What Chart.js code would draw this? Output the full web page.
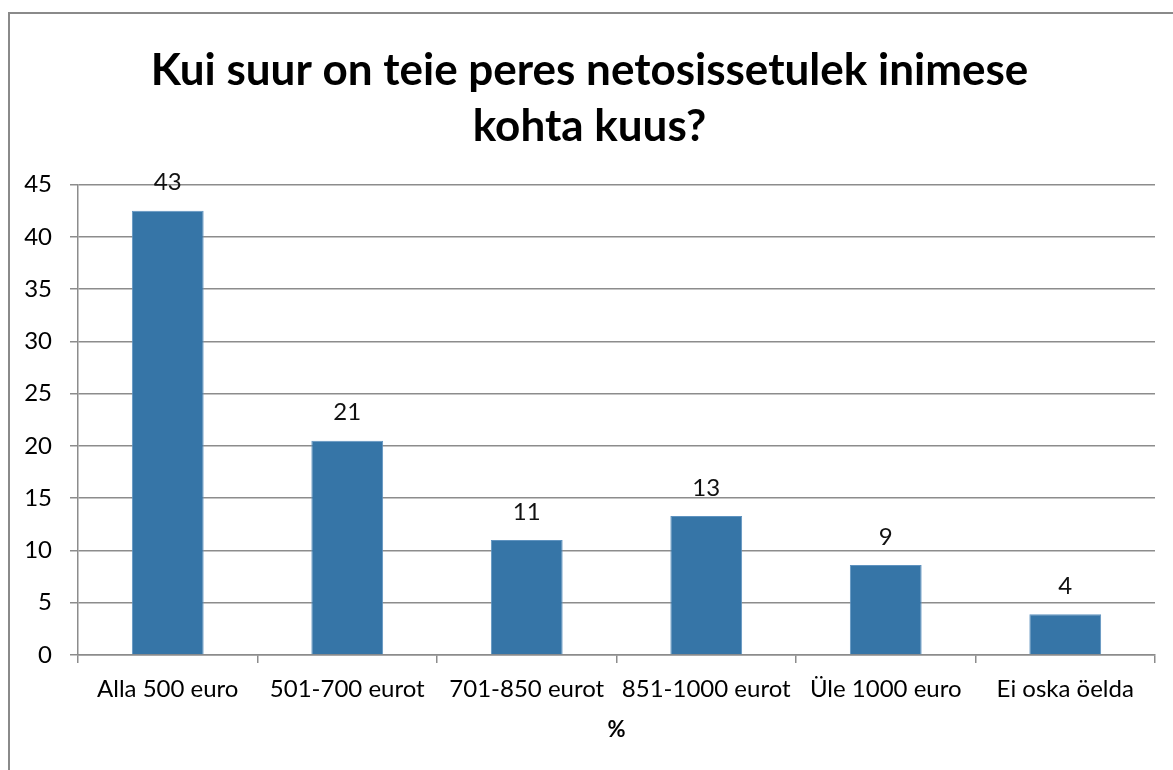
<!DOCTYPE html>
<html>
<head>
<meta charset="utf-8">
<script src="https://cdn.jsdelivr.net/npm/chart.js@4/dist/chart.umd.min.js"></script>
<style>
  html, body { margin: 0; padding: 0; background: #fff; overflow: hidden; }
  #wrap { position: relative; width: 1173px; height: 770px; }
  /* chart frame, cut off at the right and bottom like the reference */
  #frame {
    position: absolute; left: 8px; top: 12px; width: 1300px; height: 900px;
    border-left: 2px solid #8a8a8a; border-top: 2px solid #8a8a8a;
  }
  canvas { position: absolute; left: 0; top: 0; }
</style>
</head>
<body>
<div id="wrap">
  <div id="frame"></div>
  <canvas id="chart" width="1173" height="770"></canvas>
</div>
<script>
// Data
const categories = ['Alla 500 euro', '501-700 eurot', '701-850 eurot', '851-1000 eurot', 'Üle 1000 euro', 'Ei oska öelda'];
const values = [42.5, 20.5, 11.0, 13.3, 8.6, 3.9];
const valueLabels = ['43', '21', '11', '13', '9', '4'];
const titleLines = ['Kui suur on teie peres netosissetulek inimese', 'kohta kuus?'];
const axisTitle = '%';

const FONT = "Lato, 'Open Sans', sans-serif";
const GRID = '#8c8c8c';

/**
 * Draws the number above each bar
 */
const barLabels = {
  id: 'barLabels',
  afterDatasetsDraw(chart) {
    const ctx = chart.ctx;
    const meta = chart.getDatasetMeta(0);
    ctx.save();
    ctx.font = `24px ${FONT}`;
    ctx.fillStyle = '#111';
    ctx.textAlign = 'center';
    ctx.textBaseline = 'middle';
    meta.data.forEach((bar, i) => {
      ctx.fillText(valueLabels[i], bar.x, bar.y - 28);
    });
    ctx.restore();
  },
};

new Chart(document.getElementById('chart'), {
  type: 'bar',
  data: {
    labels: categories,
    datasets: [{
      data: values,
      backgroundColor: '#3675a7',
      borderColor: '#5f93c0',
      borderWidth: 1,
      barPercentage: 0.4,
      categoryPercentage: 1.0,
    }],
  },
  options: {
    responsive: false,
    animation: false,
    // left padding only nudges the title to the right; the y axis width makes up for it
    layout: { padding: { left: 24, right: 18, top: 0, bottom: 0 } },
    plugins: {
      legend: { display: false },
      tooltip: { enabled: false },
      title: {
        display: true,
        text: titleLines,
        color: '#000',
        font: { family: FONT, size: 44, weight: 'bold', lineHeight: 1.29 },
        padding: { top: 42, bottom: 29 },
      },
    },
    scales: {
      x: {
        grid: { display: true, drawOnChartArea: false, drawTicks: true, tickLength: 8, offset: true, color: GRID, lineWidth: 1.5 },
        border: { color: GRID, width: 1.5 },
        ticks: { color: '#000', font: { family: FONT, size: 24 }, padding: 12, maxRotation: 0, autoSkip: false },
        title: {
          display: true,
          text: axisTitle,
          color: '#000',
          font: { family: FONT, size: 22, weight: 'bold', lineHeight: 1.2 },
          padding: { top: 27, bottom: 27 },
        },
        afterFit: (scale) => { scale.height = 115; },
      },
      y: {
        min: 0,
        max: 45,
        grid: { color: GRID, lineWidth: 1.5, tickLength: 8 },
        border: { color: GRID, width: 1.5 },
        ticks: { stepSize: 5, color: '#000', font: { family: FONT, size: 24 }, padding: 18 },
        afterFit: (scale) => { scale.width = 54; },
      },
    },
  },
  plugins: [barLabels],
});
</script>
</body>
</html>
